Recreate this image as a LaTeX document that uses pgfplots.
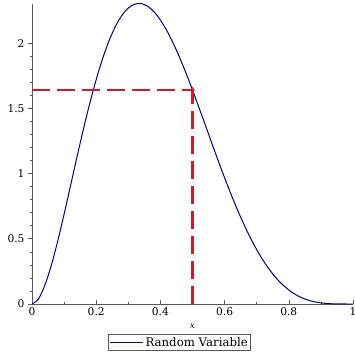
\documentclass[border=0pt]{standalone}
\usepackage{pgfplots}
\pgfplotsset{compat=1.18}
\usepackage{fontspec}
\setmainfont{DejaVu Serif}
\definecolor{curve}{RGB}{0,0,128}
\definecolor{dred}{RGB}{200,30,40}
\definecolor{axgray}{RGB}{90,90,90}
\begin{document}
\begin{tikzpicture}
\begin{axis}[
  scale only axis, width=321bp, height=300bp,
  xmin=0, xmax=1, ymin=0, ymax=2.3,
  axis x line=bottom, axis y line=left,
  axis line style={axgray, -, line width=0.8pt},
  xtick={0,0.2,0.4,0.6,0.8,1}, ytick={0,0.5,1,1.5,2},
  minor x tick num=1, minor y tick num=4,
  x tick style={axgray, line width=0.6pt}, y tick style={axgray, line width=0.6pt},
  xtick align=inside, ytick align=outside,
  major tick length=4pt, minor tick length=2.5pt,
  tick label style={font=\fontsize{10.7}{12}\selectfont},
  /pgf/number format/assume math mode=true,
  xticklabels={0,0.2,0.4,0.6,0.8,1},
  yticklabels={0,0.5,1,1.5,2},
  xlabel={x}, xlabel style={font=\fontsize{8.5}{9}\selectfont\itshape, at={(axis description cs:0.5,-0.055)}, anchor=north},
  legend style={at={(axis description cs:0.46,-0.1)}, anchor=north, draw=axgray, line width=0.8pt, font=\fontsize{11.8}{13}\selectfont, inner sep=1pt, row sep=0pt, legend cell align=left},
  legend image code/.code={\draw[#1] (0bp,0bp) -- (33bp,0bp);},
  clip=false,
]
\addplot[curve, line width=1pt, smooth] coordinates {
(0,0) (0.02,0.03874) (0.04,0.14269) (0.06,0.29512) (0.08,0.48141) (0.10,0.68891)
(0.12,0.90673) (0.14,1.12574) (0.16,1.33830) (0.18,1.53811) (0.20,1.72032)
(0.22,1.88112) (0.24,2.01776) (0.26,2.12846) (0.28,2.21226) (0.30,2.26895)
(0.32,2.29887) (0.34,2.30318) (0.36,2.28301) (0.38,2.24036) (0.40,2.17728)
(0.42,2.09612) (0.44,1.99917) (0.46,1.88922) (0.48,1.76883) (0.50,1.64063)
(0.52,1.50715) (0.54,1.37093) (0.56,1.23418) (0.58,1.09911) (0.60,0.96768)
(0.62,0.84160) (0.64,0.72236) (0.66,0.61119) (0.68,0.50910) (0.70,0.41675)
(0.72,0.33457) (0.74,0.26275) (0.76,0.20122) (0.78,0.14965) (0.80,0.10752)
(0.82,0.07412) (0.84,0.04855) (0.86,0.02983) (0.88,0.01686) (0.90,0.00851)
(0.92,0.00364) (0.94,0.00120) (0.96,0.00025) (0.98,0.00002) (1,0)
};
\addlegendentry{Random Variable}
\addplot[dred, line width=2.5pt, dash pattern=on 18bp off 7bp, forget plot] coordinates {(0,1.64063) (0.5,1.64063)};
\addplot[dred, line width=2.5pt, dash pattern=on 18bp off 7bp, forget plot] coordinates {(0.5,0) (0.5,1.64063)};
\addplot[dred, only marks, mark=diamond, mark size=2.5pt, mark options={line width=0.8pt}, forget plot] coordinates {(0.5,1.64063)};
\end{axis}
\pgfresetboundingbox
\path ([shift={(-32bp,-51bp)}]current axis.south west) rectangle ([shift={(2bp,4bp)}]current axis.north east);
\end{tikzpicture}
\end{document}
